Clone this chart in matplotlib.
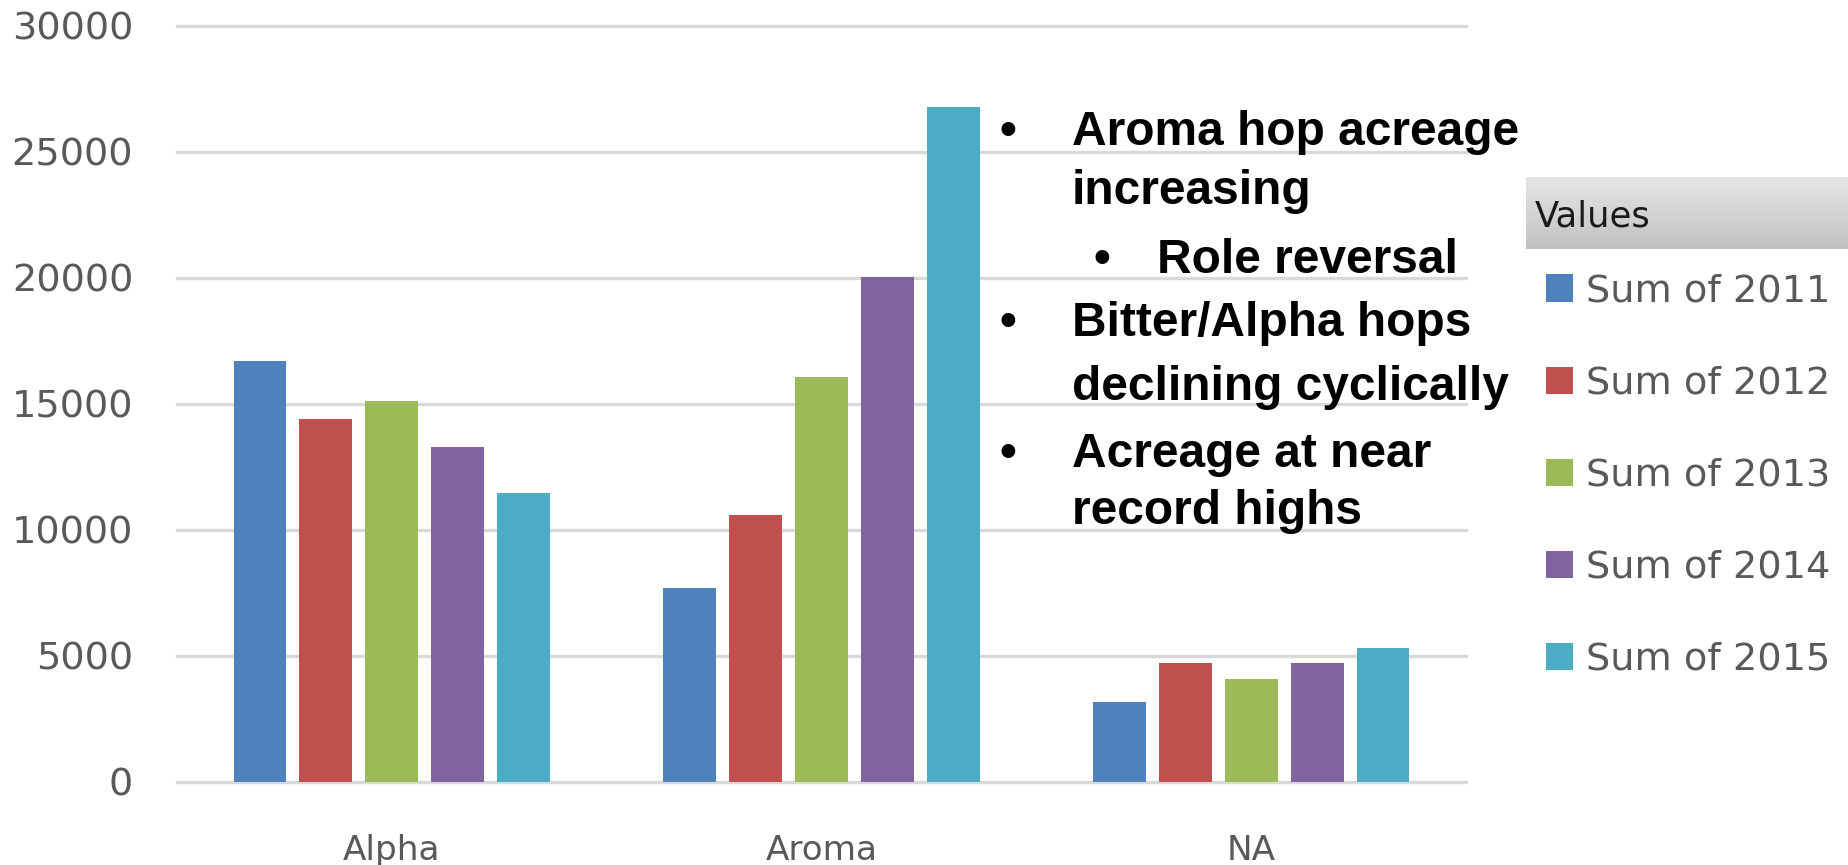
import numpy as np
import matplotlib
matplotlib.use("Agg")
import matplotlib.pyplot as plt

# Hop acreage by type, 2011-2015
categories = ["Alpha", "Aroma", "NA"]
series_names = ["Sum of 2011", "Sum of 2012", "Sum of 2013", "Sum of 2014", "Sum of 2015"]
sum_2011 = [16700, 7700, 3150]
sum_2012 = [14400, 10600, 4700]
sum_2013 = [15100, 16050, 4080]
sum_2014 = [13300, 20030, 4690]
sum_2015 = [11450, 26800, 5300]
y_ticks = [0, 5000, 10000, 15000, 20000, 25000, 30000]

bullet_lines = [
    ("•", "Aroma hop acreage", 0),
    ("", "increasing", 0),
    ("•", "Role reversal", 1),
    ("•", "Bitter/Alpha hops", 0),
    ("", "declining cyclically", 0),
    ("•", "Acreage at near", 0),
    ("", "record highs", 0),
]

colors = ["#4F81BD", "#C0504D", "#9BBB59", "#8064A2", "#4BACC6"]
values = [sum_2011, sum_2012, sum_2013, sum_2014, sum_2015]

W, H = 1849, 865
fig = plt.figure(figsize=(W / 100, H / 100), dpi=100)

def fx(px):
    return px / W

def fy(py):
    return 1 - py / H

ax = fig.add_axes([fx(177), fy(781.5), fx(1466) - fx(177), fy(26) - fy(781.5)])

x = np.arange(len(categories))
step = 0.1535
width = 0.123
handles = []
for i, (vals, col, name) in enumerate(zip(values, colors, series_names)):
    bars = ax.bar(x + (i - 2) * step, vals, width=width, color=col, label=name,
                  edgecolor="none", zorder=3)
    handles.append(bars)

ax.set_xlim(-0.5, 2.5)
ax.set_ylim(0, 30000)
ax.set_yticks(y_ticks)
ax.set_yticklabels([str(v) for v in y_ticks])
ax.set_xticks(x)
ax.set_xticklabels(categories)
ax.set_axisbelow(True)
ax.yaxis.grid(True, color="#D9D9D9", linewidth=2.4)
for gl in ax.get_ygridlines():
    gl.set_clip_on(False)
for s in ax.spines.values():
    s.set_visible(False)
ax.tick_params(axis="y", length=0, pad=31.5, labelsize=27.5, labelcolor="#595959")
ax.tick_params(axis="x", length=0, pad=38, labelsize=24.7, labelcolor="#595959")

# Bulleted notes beside the chart
bullet_baselines = [145, 204, 273, 336, 400, 467, 524]
for (mark, text, level), base in zip(bullet_lines, bullet_baselines):
    bx = 1008 if level == 0 else 1102
    tx = 1072 if level == 0 else 1157
    if mark:
        fig.text(fx(bx), fy(base), mark, ha="center", va="baseline",
                 fontsize=34.5, fontweight="bold", family="Liberation Sans", color="black")
    fig.text(fx(tx), fy(base), text, ha="left", va="baseline",
             fontsize=34.5, fontweight="bold", family="Liberation Sans", color="black")

# Legend header with a gray gradient
hx0, hx1, hy0, hy1 = 1526, 1849, 177, 249
hax = fig.add_axes([fx(hx0), fy(hy1), fx(hx1) - fx(hx0), fy(hy0) - fy(hy1)])
grad = np.linspace(0.90, 0.76, 64).reshape(-1, 1)
hax.imshow(np.dstack([grad, grad, grad]), aspect="auto", extent=[0, 1, 0, 1], origin="upper")
hax.set_axis_off()
fig.text(fx(1535), fy(226.7), "Values", ha="left", va="baseline", fontsize=25.5, color="#1A1A1A")

leg = ax.legend(handles=handles, labels=series_names, loc="center left",
                bbox_to_anchor=(fx(1546), fy(475.7)), bbox_transform=fig.transFigure,
                frameon=False, fontsize=27.5, handlelength=0.72, handleheight=0.72,
                handletextpad=0.32, labelspacing=1.47, borderpad=0, borderaxespad=0)
for t in leg.get_texts():
    t.set_color("#595959")

fig.savefig("out.png", dpi=100)
